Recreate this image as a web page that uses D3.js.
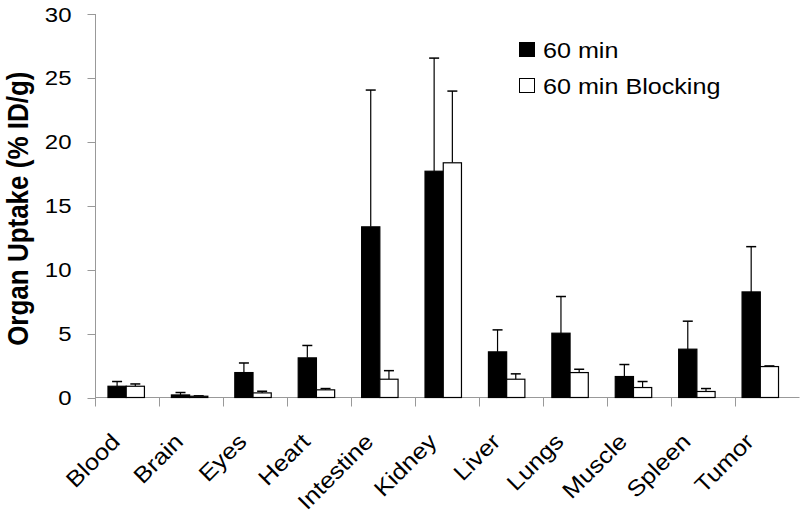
<!DOCTYPE html>
<html>
<head>
<meta charset="utf-8">
<script src="https://cdn.jsdelivr.net/npm/d3@7"></script>
<style>
  body { margin: 0; background: #fff; }
  text { font-family: "Liberation Sans", Arial, sans-serif; fill: #000; }
</style>
</head>
<body>
<svg id="chart" width="800" height="519"></svg>
<script>
const categories = ["Blood", "Brain", "Eyes", "Heart", "Intestine", "Kidney", "Liver", "Lungs", "Muscle", "Spleen", "Tumor"];
const seriesNames = ["60 min", "60 min Blocking"];
const mean60 = [0.88, 0.2, 1.95, 3.1, 13.35, 17.7, 3.57, 5.03, 1.64, 3.78, 8.26];
const err60 = [0.37, 0.19, 0.75, 0.97, 10.7, 8.85, 1.72, 2.87, 0.94, 2.19, 3.54];
const meanBlock = [0.88, 0.1, 0.36, 0.6, 1.43, 18.36, 1.43, 1.95, 0.78, 0.47, 2.42];
const errBlock = [0.18, 0.03, 0.13, 0.1, 0.67, 5.61, 0.42, 0.26, 0.47, 0.23, 0.05];
const yTicks = [0, 5, 10, 15, 20, 25, 30];

const fills = { "60 min": "#000", "60 min Blocking": "#fff" };
const stretch = 1.17; // text in the reference is widened a bit

const svg = d3.select("#chart");
const mLeft = 95, mRight = 799.5, mTop = 14, mBottom = 397.5;

// axis ticks span the full width, the bar groups drift a little left in the original
const xAxisBand = d3.scaleBand().domain(categories).range([mLeft, mRight]).padding(0);
const x0 = d3.scaleBand().domain(categories).range([mLeft - 0.5, 792]).padding(0);
const x1 = d3.scaleBand().domain(seriesNames).range([0, x0.bandwidth()])
  .paddingInner(0).paddingOuter(0.74);
const y = d3.scaleLinear().domain([0, 30]).range([mBottom, mTop]);

// build rows from the arrays
const rows = categories.map((c, i) => ({
  cat: c,
  vals: [
    { name: seriesNames[0], v: mean60[i], e: err60[i] },
    { name: seriesNames[1], v: meanBlock[i], e: errBlock[i] }
  ]
}));

// y axis
const yAxis = svg.append("g").attr("transform", `translate(${mLeft + 0.5},0)`);
yAxis.append("line")
  .attr("y1", y(30)).attr("y2", y(0))
  .attr("stroke", "#999").attr("stroke-width", 1);
yAxis.selectAll(".yt").data(yTicks).enter().append("line")
  .attr("x1", -8).attr("x2", 0)
  .attr("y1", d => Math.round(y(d)) + 0.5).attr("y2", d => Math.round(y(d)) + 0.5)
  .attr("stroke", "#999");
yAxis.selectAll(".yl").data(yTicks).enter().append("text")
  .attr("transform", d => `translate(-24,${y(d) + 7.5}) scale(${stretch},1)`)
  .attr("text-anchor", "end")
  .style("font-size", "20.5px")
  .text(d => d);

// x axis
svg.append("line")
  .attr("x1", mLeft).attr("x2", mRight)
  .attr("y1", mBottom).attr("y2", mBottom)
  .attr("stroke", "#999");
const bounds = categories.map(c => xAxisBand(c)).concat([mRight]);
svg.selectAll(".xt").data(bounds).enter().append("line")
  .attr("x1", d => Math.round(d) + 0.5).attr("x2", d => Math.round(d) + 0.5)
  .attr("y1", mBottom).attr("y2", mBottom + 9)
  .attr("stroke", "#999");

svg.selectAll(".xl").data(categories).enter().append("text")
  .attr("transform", d => `translate(${x0(d) + x0.bandwidth() / 2 - 5},443) rotate(-45) scale(1.13,1)`)
  .attr("text-anchor", "end")
  .style("font-size", "22.5px")
  .text(d => d);

// bars
const groups = svg.selectAll(".grp").data(rows).enter().append("g")
  .attr("transform", d => `translate(${x0(d.cat)},0)`);

// error bars first (only upper half visible)
groups.selectAll(".err").data(d => d.vals).enter().append("g")
  .each(function (d) {
    const g = d3.select(this);
    const cx = x1(d.name) + x1.bandwidth() / 2;
    g.append("line")
      .attr("x1", cx).attr("x2", cx)
      .attr("y1", y(d.v)).attr("y2", y(d.v + d.e))
      .attr("stroke", "#000").attr("stroke-width", 1.2);
    g.append("line")
      .attr("x1", cx - 5).attr("x2", cx + 5)
      .attr("y1", y(d.v + d.e)).attr("y2", y(d.v + d.e))
      .attr("stroke", "#000").attr("stroke-width", 1.5);
  });

groups.selectAll(".bar").data(d => d.vals).enter().append("rect")
  .attr("x", d => x1(d.name))
  .attr("y", d => y(d.v))
  .attr("width", x1.bandwidth())
  .attr("height", d => y(0) - y(d.v))
  .attr("fill", d => fills[d.name])
  .attr("stroke", "#000")
  .attr("stroke-width", 1.2);

// y axis title
svg.append("text")
  .attr("transform", `translate(28,208.7) scale(${stretch},1) rotate(-90)`)
  .attr("text-anchor", "middle")
  .style("font-size", "26px")
  .style("font-weight", "bold")
  .text("Organ Uptake (% ID/g)");

// legend
const legend = svg.append("g").attr("transform", "translate(519,42)");
seriesNames.forEach((s, i) => {
  const row = legend.append("g").attr("transform", `translate(0,${i * 36})`);
  row.append("rect")
    .attr("x", 0.5).attr("y", 0.5)
    .attr("width", 15).attr("height", 14)
    .attr("fill", fills[s]).attr("stroke", "#000").attr("stroke-width", 1);
  row.append("text")
    .attr("transform", `translate(24,15.5) scale(${stretch},1)`)
    .style("font-size", "21.5px")
    .text(s);
});
</script>
</body>
</html>
